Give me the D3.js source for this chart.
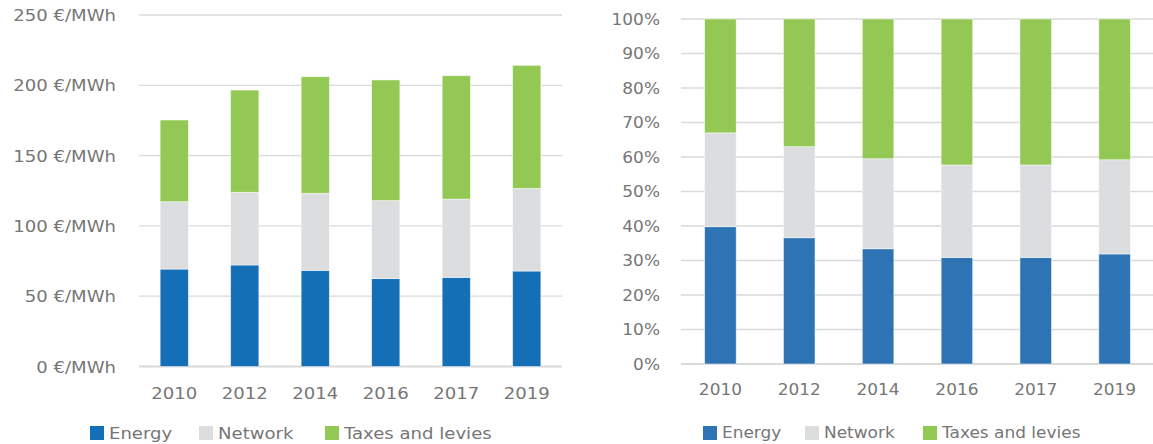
<!DOCTYPE html>
<html><head><meta charset="utf-8">
<script src="https://cdn.jsdelivr.net/npm/d3@7"></script>
<style>body{margin:0;background:#fff}svg{display:block}text{font-family:"DejaVu Sans",sans-serif;fill:#767676}</style>
</head><body><svg id="c" width="1153" height="444"></svg>
<script>
const years = ["2010","2012","2014","2016","2017","2019"];
const series = ["Energy","Network","Taxes and levies"];
// Left chart: €/MWh
const energy = [69.3, 72.2, 68.4, 62.5, 63.4, 67.9];
const network = [47.9, 51.7, 54.8, 55.5, 55.7, 58.8];
const taxes = [58.1, 72.7, 82.9, 85.8, 87.7, 87.5];
// Right chart: shares (%)
const energyPct = [39.8, 36.6, 33.4, 30.9, 30.9, 31.9];
const networkPct = [27.2, 26.4, 26.1, 26.8, 26.8, 27.3];
const taxesPct = [33.0, 37.0, 40.5, 42.3, 42.3, 40.8];
const leftTicks = [0, 50, 100, 150, 200, 250];
const rightTicks = [0,10,20,30,40,50,60,70,80,90,100];

const svg = d3.select("#c");
const SX = 1.13;

function drawChart(cfg){
  const g = svg.append("g");
  const x = d3.scaleBand().domain(years).range([cfg.x0, cfg.x1]).paddingInner(0.6).paddingOuter(0.3);
  const y = d3.scaleLinear().domain(cfg.domain).range([cfg.y0, cfg.y1]);
  g.selectAll("line.grid").data(cfg.ticks).enter().append("line")
    .attr("x1", cfg.x0).attr("x2", cfg.x1)
    .attr("y1", d=>y(d)).attr("y2", d=>y(d))
    .attr("stroke", "#d9d9d9").attr("stroke-width", d=> d===0?2:1.3);
  const ya = d3.axisLeft(y).tickValues(cfg.ticks).tickFormat(cfg.fmt).tickSize(0).tickPadding(0);
  const ag = g.append("g").attr("transform", `translate(${cfg.labelX},0)`).call(ya);
  ag.select(".domain").remove();
  ag.selectAll("text").style("font-size", cfg.fs+"px").attr("fill","#767676").attr("dy","0.35em")
    .attr("transform", `scale(${SX},1)`);
  const rows = years.map((yr,i)=>({year:yr, Energy:cfg.data[0][i], Network:cfg.data[1][i], "Taxes and levies":cfg.data[2][i]}));
  const stack = d3.stack().keys(series)(rows);
  g.selectAll("g.s").data(stack).enter().append("g")
    .attr("fill", (d,i)=>cfg.colors[i])
    .selectAll("rect").data(d=>d).enter().append("rect")
    .attr("x", d=>x(d.data.year)).attr("width", x.bandwidth())
    .attr("y", d=>y(d[1])).attr("height", d=>y(d[0])-y(d[1]))
    .attr("stroke", "rgba(255,255,255,0.6)").attr("stroke-width", 0.8);
  const xa = d3.axisBottom(x).tickSize(0).tickPadding(0);
  const xg = g.append("g").attr("transform", `translate(0,${cfg.xLabelY})`).call(xa);
  xg.select(".domain").remove();
  xg.selectAll("text").style("font-size", cfg.fs+"px").attr("fill","#767676").attr("dy","0.35em")
    .attr("transform", `scale(${SX},1)`);
  const lg = g.append("g");
  series.forEach((s,i)=>{
    lg.append("rect").attr("x", cfg.legX[i]).attr("y", cfg.legY-7).attr("width", 14).attr("height", 14).attr("fill", cfg.colors[i]);
    lg.append("text").attr("transform", `translate(${cfg.legX[i]+19},${cfg.legY}) scale(${SX},1)`)
      .attr("dy","0.35em").style("font-size", cfg.fs+"px").text(s);
  });
}

drawChart({
  x0:139, x1:562, y0:366.5, y1:15, domain:[0,250], ticks:leftTicks,
  fmt:d=>d+" €/MWh", labelX:116, fs:16, xLabelY:393,
  data:[energy, network, taxes],
  colors:["#156fb7","#dcdddf","#92c853"],
  legX:[90,199,325], legY:433
});
drawChart({
  x0:681, x1:1154, y0:364, y1:19, domain:[0,100], ticks:rightTicks,
  fmt:d=>d+"%", labelX:660, fs:15, xLabelY:390,
  data:[energyPct, networkPct, taxesPct],
  colors:["#2e74b5","#dcdddf","#92c853"],
  legX:[703,805,923], legY:433
});
</script></body></html>
